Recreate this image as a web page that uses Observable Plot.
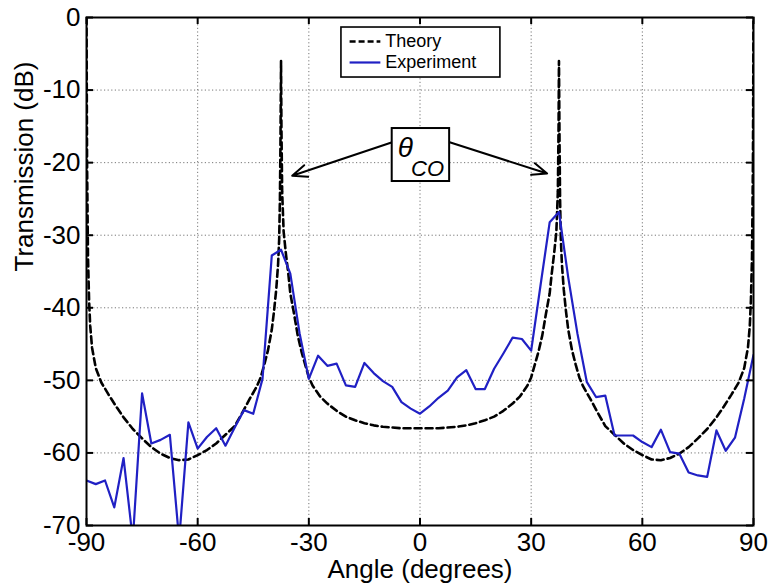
<!DOCTYPE html>
<html>
<head>
<meta charset="utf-8">
<script src="https://cdn.jsdelivr.net/npm/d3@7"></script>
<script src="https://cdn.jsdelivr.net/npm/@observablehq/plot@0.6"></script>
<style>
  html, body { margin: 0; padding: 0; background: white; }
</style>
</head>
<body>
<div id="chart"></div>
<script>
// ---- Data ----
const xTicks = [-90, -60, -30, 0, 30, 60, 90];
const yTicks = [0, -10, -20, -30, -40, -50, -60, -70];

const theoryAngle = [
  -90, -89.85, -89.6, -89.3, -89, -88.5, -87.5, -86, -84, -82, -80, -77.5, -75, -72.5, -70,
  -67.5, -65, -62.5, -60, -57.5, -55, -52.5, -50, -48, -46, -44, -43, -42, -41, -40,
  -39.4, -38.8, -38.3, -38, -37.8, -37.65, -37.5, -37.4, -37.2, -36.8, -36.2, -35.5, -35,
  -34, -33, -32, -31, -30, -29, -27, -25, -22.5, -20, -17.5, -15, -12.5, -10, -5, 0,
  5, 10, 12.5, 15, 17.5, 20, 22.5, 25, 27, 29, 30, 31, 32, 33, 34, 35, 35.5, 36.2, 36.8,
  37.2, 37.4, 37.5, 37.65, 37.8, 38, 38.3, 38.8, 39.4, 40, 41, 42, 43, 44, 46, 48, 50,
  52.5, 55, 57.5, 60, 62.5, 65, 67.5, 70, 72.5, 75, 77.5, 80, 82, 84, 86, 87.5, 88.5, 89,
  89.3, 89.6, 89.85, 90
];
const theoryDb = [
  0, -20, -33, -39, -42.5, -45.5, -48.3, -50.3, -52, -53.6, -55.1, -56.7, -58, -59.2, -60.1,
  -60.7, -61, -60.9, -60.3, -59.6, -58.7, -57.5, -56.3, -54.5, -52.6, -50.8, -49.6, -47.8, -45.8, -43,
  -40.5, -37.5, -34, -30.5, -25, -17, -6, -15, -24, -29.5, -32.5, -35.5, -38,
  -40.8, -43.8, -46, -47.8, -49.6, -50.7, -52.2, -53.2, -54.2, -55, -55.5, -55.9, -56.2, -56.4, -56.6, -56.6,
  -56.6, -56.4, -56.2, -55.9, -55.5, -55, -54.2, -53.2, -52.2, -50.7, -49.6, -47.8, -46, -43.8, -40.8, -38, -35.5, -32.5, -29.5,
  -24, -15, -6, -17, -25, -30.5, -34, -37.5, -40.5, -43, -45.8, -47.8, -49.6, -50.8, -52.6, -54.5, -56.3,
  -57.5, -58.7, -59.6, -60.3, -60.9, -61, -60.7, -60.1, -59.2, -58, -56.7, -55.1, -53.6, -52, -50.3, -48.3, -45.5, -42.5,
  -39, -33, -20, 0
];

const expAngle = [
  -90, -87.5, -85, -82.5, -80, -77.5, -75, -72.5, -70, -67.5, -65, -62.5, -60, -57.5, -55,
  -52.5, -50, -47.5, -45, -42.5, -40, -37.5, -35, -32.5, -30, -27.5, -25, -22.5, -20, -17.5,
  -15, -12.5, -10, -7.5, -5, -2.5, 0, 2.5, 5, 7.5, 10, 12.5, 15, 17.5, 20, 22.5, 25, 27.5,
  30, 32.5, 35, 37.5, 40, 42.5, 45, 47.5, 50, 52.5, 55, 57.5, 60, 62.5, 65, 67.5, 70, 72.5,
  75, 77.5, 80, 82.5, 85, 87.5, 90
];
const expDb = [
  -63.8, -64.3, -63.8, -67.5, -60.7, -72, -51.8, -58.7, -58.2, -57.5, -72, -55.8, -59.4, -57.8, -56.6,
  -59, -56.5, -54.1, -54.6, -49.8, -32.8, -32, -35.3, -43.5, -49.8, -46.6, -48, -47.7, -50.7, -50.9,
  -47.6, -49, -50.1, -50.9, -53, -53.9, -54.6, -53.6, -52.4, -51.4, -49.6, -48.6, -51.2, -51.2, -48.4, -46.3, -44.1, -44.3,
  -45.9, -37, -28.2, -26.8, -35.8, -43.6, -50.2, -52.3, -52.1, -57.6, -57.6, -57.6, -58.5, -59.2, -56.8, -59.9, -60.1, -62.7,
  -63.1, -63.3, -56.9, -59.7, -57.9, -52.5, -46.5
];

const seriesNames = ["Theory", "Experiment"];
const xLabel = "Angle (degrees)";
const yLabel = "Transmission (dB)";
const thetaSymbol = "θ";
const thetaSub = "CO";

// legend & annotation anchors (in data units)
const legendBoxX = [-21.2, 21.7];
const legendBoxY = [-1.38, -8.27];
const legendSampleX = [-19.0, -10.7];
const legendRowY = [-3.3, -6.2];
const legendTextX = -9.4;

const calloutBoxX = [-7.5, 8.0];
const calloutBoxY = [-15.3, -22.6];
const calloutFromX = [-7.5, 8.0];
const calloutFromY = [-17.2, -17.2];
const calloutToX = [-34.5, 34.3];
const calloutToY = [-21.8, -21.5];
const thetaPos = [-6.0, -18.0];
const subPos = [-2.4, -20.9];

// ---- Build tables ----
const theory = theoryAngle.map((a, i) => ({angle: a, db: theoryDb[i]}));
const experiment = expAngle.map((a, i) => ({angle: a, db: expDb[i]}));
const blue = "#2020c4";

const legendRows = seriesNames.map((name, i) => ({
  name, x1: legendSampleX[0], x2: legendSampleX[1], y: legendRowY[i], tx: legendTextX
}));
const arrows = calloutFromX.map((x, i) => ({
  x1: x, y1: calloutFromY[i], x2: calloutToX[i], y2: calloutToY[i]
}));

const font = "'Liberation Sans', Arial, Helvetica, sans-serif";

const chart = Plot.plot({
  width: 769,
  height: 584,
  marginLeft: 86,
  marginRight: 16,
  marginTop: 17,
  marginBottom: 59,
  style: {fontFamily: font, background: "white", color: "black"},
  x: {domain: [-90, 90]},
  y: {domain: [-70, 0]},
  marks: [
    Plot.gridX(xTicks, {stroke: "#777", strokeOpacity: 1, strokeWidth: 1, strokeDasharray: "1.2,2.4"}),
    Plot.gridY(yTicks, {stroke: "#777", strokeOpacity: 1, strokeWidth: 1, strokeDasharray: "1.2,2.4"}),
    Plot.line(theory, {x: "angle", y: "db", stroke: "black", strokeWidth: 2.6, strokeDasharray: "7,4", clip: true}),
    Plot.line(experiment, {x: "angle", y: "db", stroke: blue, strokeWidth: 2.2, clip: true}),
    Plot.frame({stroke: "black", strokeWidth: 2}),
    // inward ticks
    Plot.ruleX(xTicks, {insetTop: 501, stroke: "black", strokeWidth: 2}),
    Plot.ruleX(xTicks, {insetBottom: 501, stroke: "black", strokeWidth: 2}),
    Plot.ruleY(yTicks, {insetRight: 660, stroke: "black", strokeWidth: 2}),
    Plot.ruleY(yTicks, {insetLeft: 660, stroke: "black", strokeWidth: 2}),
    Plot.axisX(xTicks, {anchor: "bottom", tickSize: 0, tickPadding: 7, fontSize: 26, label: null, tickFormat: d => String(d)}),
    Plot.axisY(yTicks, {anchor: "left", tickSize: 0, tickPadding: 6, fontSize: 26, label: null, tickFormat: d => String(d)}),
    Plot.text([xLabel], {frameAnchor: "bottom", lineAnchor: "middle", dy: 44, fontSize: 26, fill: "black"}),
    Plot.text([yLabel], {frameAnchor: "left", dx: -62, rotate: -90, fontSize: 26, fill: "black"}),
    // legend
    Plot.rect([0], {x1: legendBoxX[0], x2: legendBoxX[1], y1: legendBoxY[0], y2: legendBoxY[1], fill: "white", stroke: "black", strokeWidth: 1.6}),
    Plot.link(legendRows.slice(0, 1), {x1: "x1", x2: "x2", y1: "y", y2: "y", stroke: "black", strokeWidth: 2.4, strokeDasharray: "6,3"}),
    Plot.link(legendRows.slice(1), {x1: "x1", x2: "x2", y1: "y", y2: "y", stroke: blue, strokeWidth: 2.2}),
    Plot.text(legendRows, {x: "tx", y: "y", text: "name", textAnchor: "start", fontSize: 18, fill: "black"}),
    // callout
    Plot.arrow(arrows, {x1: "x1", y1: "y1", x2: "x2", y2: "y2", stroke: "black", strokeWidth: 2, headLength: 12, headAngle: 45}),
    Plot.rect([0], {x1: calloutBoxX[0], x2: calloutBoxX[1], y1: calloutBoxY[0], y2: calloutBoxY[1], fill: "white", stroke: "black", strokeWidth: 2}),
    Plot.text([thetaSymbol], {x: thetaPos[0], y: thetaPos[1], textAnchor: "start", fontSize: 28, fontStyle: "italic", fill: "black"}),
    Plot.text([thetaSub], {x: subPos[0], y: subPos[1], textAnchor: "start", fontSize: 22, fontStyle: "italic", fill: "black"})
  ]
});

document.getElementById("chart").appendChild(chart);
</script>
</body>
</html>
